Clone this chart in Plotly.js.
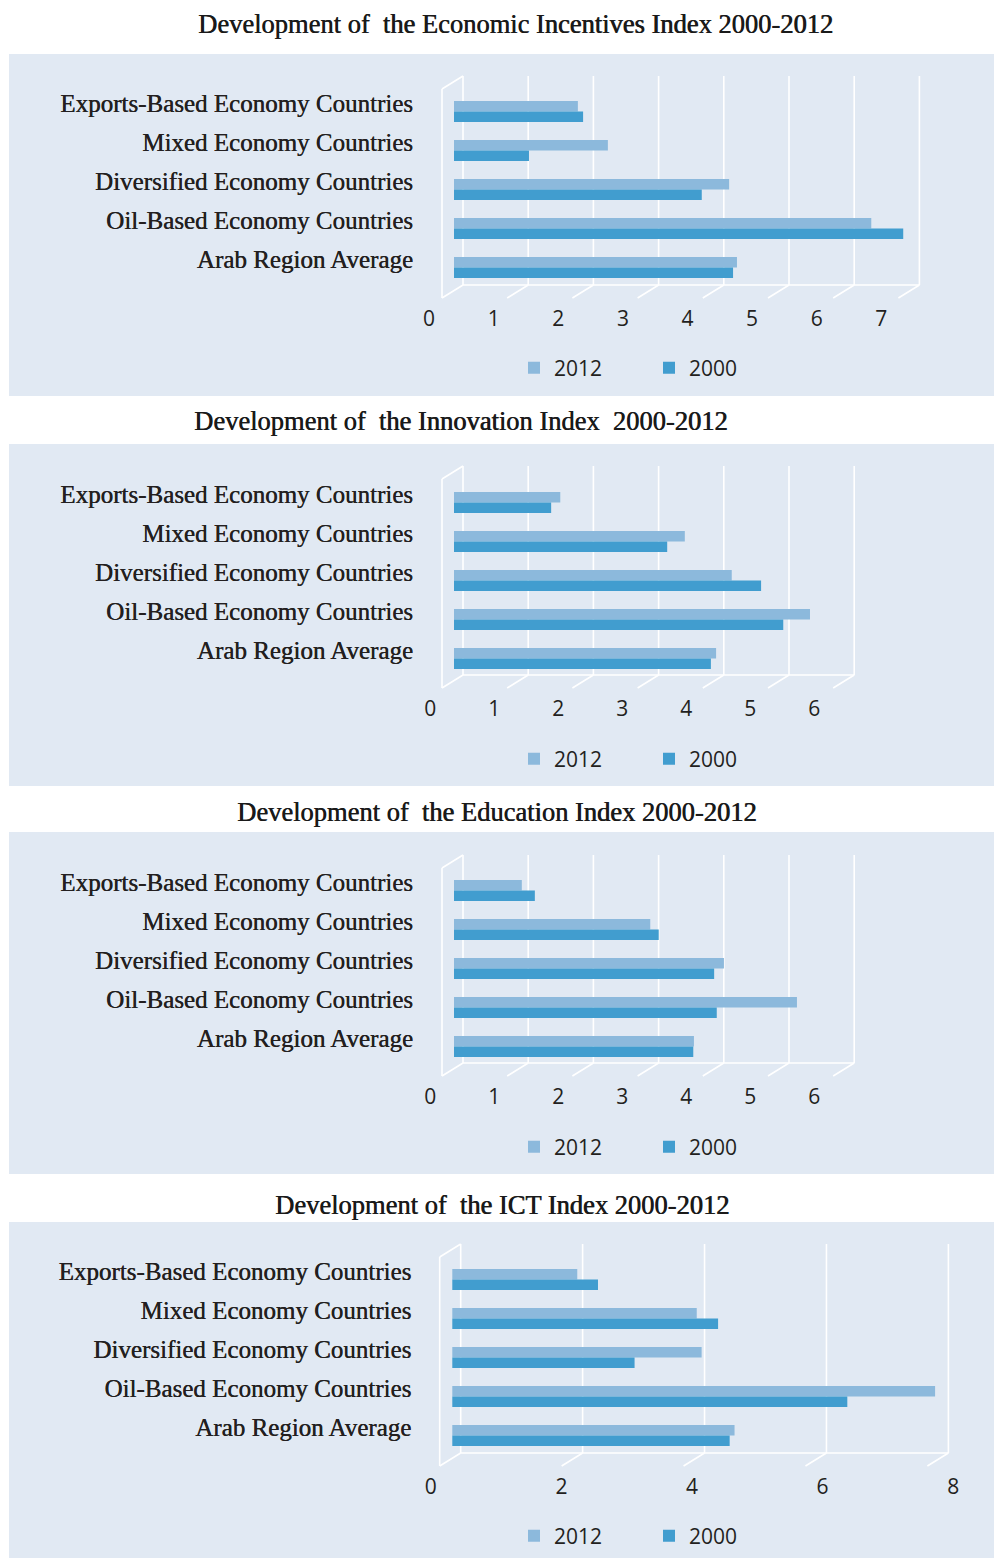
<!DOCTYPE html>
<html><head><meta charset="utf-8">
<script src="https://cdn.plot.ly/plotly-3.0.1.min.js"></script>
<style>html,body{margin:0;padding:0;background:#fff}#chart{width:994px;height:1558px}</style>
</head><body><div id="chart"></div>
<script>
// ---- data ----
const categories = ['Exports-Based Economy Countries', 'Mixed Economy Countries', 'Diversified Economy Countries', 'Oil-Based Economy Countries', 'Arab Region Average'];
const seriesNames = ['2012', '2000'];
const titles = ['Development of  the Economic Incentives Index 2000-2012', 'Development of  the Innovation Index  2000-2012', 'Development of  the Education Index 2000-2012', 'Development of  the ICT Index 2000-2012'];
const incentives2012 = [1.90, 2.36, 4.22, 6.40, 4.34];
const incentives2000 = [1.98, 1.15, 3.80, 6.89, 4.28];
const innovation2012 = [1.63, 3.54, 4.26, 5.46, 4.02];
const innovation2000 = [1.49, 3.27, 4.71, 5.05, 3.94];
const education2012 = [1.04, 3.01, 4.14, 5.26, 3.68];
const education2000 = [1.24, 3.14, 3.99, 4.03, 3.67];
const ict2012 = [2.05, 4.01, 4.09, 7.92, 4.63];
const ict2000 = [2.39, 4.36, 2.99, 6.48, 4.55];
const ticksIncentives = [0, 1, 2, 3, 4, 5, 6, 7];
const ticksInnovation = [0, 1, 2, 3, 4, 5, 6];
const ticksEducation = [0, 1, 2, 3, 4, 5, 6];
const ticksICT = [0, 2, 4, 6, 8];

// ---- layout geometry (pixels) ----
const W = 994, H = 1558;
const COLORS = ['#8cb9dc', '#419dcf'];
const BG = '#e1e9f3';
const panels = [
  {title: titles[0], s: [incentives2012, incentives2000], ticks: ticksIncentives, tx: 515, ty: 24, bgTop: 54, bgBot: 396, wallTop: 76, floorY: 285, cat0: 111.5, x0: 454, unit: 65.2, la: 429.1, lb: 64.6, legY: 368, wallOff: 9},
  {title: titles[1], s: [innovation2012, innovation2000], ticks: ticksInnovation, tx: 461, ty: 421, bgTop: 444, bgBot: 786, wallTop: 466, floorY: 675, cat0: 502.5, x0: 454, unit: 65.2, la: 430.3, lb: 64.0, legY: 759, wallOff: 9},
  {title: titles[2], s: [education2012, education2000], ticks: ticksEducation, tx: 497, ty: 812, bgTop: 832, bgBot: 1174, wallTop: 855, floorY: 1063, cat0: 890.5, x0: 454, unit: 65.2, la: 430.3, lb: 64.0, legY: 1147, wallOff: 9},
  {title: titles[3], s: [ict2012, ict2000], ticks: ticksICT, tx: 502, ty: 1205, bgTop: 1222, bgBot: 1558, wallTop: 1244, floorY: 1453, cat0: 1279.5, x0: 452.3, unit: 60.96, la: 430.8, lb: 65.3, legY: 1536, wallOff: 8.4}
];
const CAT_STEP = 39, DX = 21, DY = 13;
const LBL_L = 400, LBL_R = 990;
const px = x => x / W, py = y => 1 - y / H;

const traces = [];
const layout = {
  width: W, height: H,
  margin: {l: 0, r: 0, t: 0, b: 0},
  paper_bgcolor: '#ffffff', plot_bgcolor: 'rgba(0,0,0,0)',
  barmode: 'group', bargap: 0.46, bargroupgap: 0,
  showlegend: true,
  shapes: [], annotations: [],
  font: {family: 'Open Sans, sans-serif', color: '#231f20'}
};

panels.forEach((p, i) => {
  const k = i + 1;
  const xs = k === 1 ? '' : String(k);
  const xid = 'x' + xs, yid = 'y' + xs;
  const lblId = 'x' + (k + 4);
  const legId = 'legend' + xs;
  const L = p.x0 - 12, R = 950;
  const xr = [(L - p.x0) / p.unit, (R - p.x0) / p.unit];

  p.s.forEach((vals, j) => {
    traces.push({
      type: 'bar', orientation: 'h', name: seriesNames[j],
      x: vals, y: categories,
      xaxis: xid, yaxis: yid, legend: legId,
      marker: {color: COLORS[j], line: {width: 0}},
      hoverinfo: 'x+y+name'
    });
  });
  // empty carrier so the tick-label axis (perspective front edge) is drawn
  traces.push({type: 'scatter', mode: 'markers', x: [null], y: [null], xaxis: lblId, yaxis: yid,
    showlegend: false, hoverinfo: 'skip'});

  layout['xaxis' + xs] = {
    domain: [px(L), px(R)], range: xr, anchor: yid,
    showgrid: false, zeroline: false, showline: false, showticklabels: false, ticks: '', fixedrange: true
  };
  layout['xaxis' + (k + 4)] = {
    domain: [px(LBL_L), px(LBL_R)], anchor: yid, side: 'bottom',
    range: [(LBL_L - p.la) / p.lb, (LBL_R - p.la) / p.lb],
    tickvals: p.ticks, ticktext: p.ticks.map(String),
    showgrid: false, zeroline: false, showline: false, ticks: '',
    ticklabelstandoff: 19,
    tickfont: {family: 'Open Sans, sans-serif', size: 21, color: '#231f20'}
  };
  layout['yaxis' + xs] = {
    domain: [py(p.floorY), py(p.wallTop)], anchor: xid,
    type: 'category', categoryorder: 'array', categoryarray: categories,
    range: [(p.floorY - p.cat0) / CAT_STEP, (p.wallTop - p.cat0) / CAT_STEP],
    showgrid: false, zeroline: false, showline: false, ticks: '',
    ticklabelstandoff: 28, ticklabelshift: 8,
    tickfont: {family: 'Liberation Serif, serif', size: 25, color: '#231f20', shadow: '0.35px 0 0 #231f20'}
  };
  layout[legId] = {
    orientation: 'h', x: px(514), y: py(p.legY), xanchor: 'left', yanchor: 'middle',
    bgcolor: 'rgba(0,0,0,0)', entrywidth: 90, font: {family: 'Open Sans, sans-serif', size: 21, color: '#231f20'}
  };

  // panel background
  layout.shapes.push({type: 'rect', xref: 'paper', yref: 'paper', layer: 'below',
    x0: px(9), x1: px(W), y0: py(p.bgBot), y1: py(p.bgTop), fillcolor: BG, line: {width: 0}});
  // perspective grid
  const line = {color: '#ffffff', width: 1.6};
  const wx = v => p.x0 + p.unit * v + p.wallOff;
  const tmax = p.ticks[p.ticks.length - 1];
  p.ticks.forEach(v => {
    layout.shapes.push({type: 'line', xref: 'paper', yref: 'paper', layer: 'below',
      x0: px(wx(v)), x1: px(wx(v)), y0: py(p.floorY), y1: py(p.wallTop), line});
    layout.shapes.push({type: 'line', xref: 'paper', yref: 'paper', layer: 'below',
      x0: px(wx(v)), x1: px(wx(v) - DX), y0: py(p.floorY), y1: py(p.floorY + DY), line});
  });
  layout.shapes.push({type: 'line', xref: 'paper', yref: 'paper', layer: 'below',
    x0: px(wx(0)), x1: px(wx(tmax)), y0: py(p.floorY), y1: py(p.floorY), line});
  layout.shapes.push({type: 'line', xref: 'paper', yref: 'paper', layer: 'below',
    x0: px(wx(0) - DX), x1: px(wx(0) - DX), y0: py(p.floorY + DY), y1: py(p.wallTop + DY), line});
  layout.shapes.push({type: 'line', xref: 'paper', yref: 'paper', layer: 'below',
    x0: px(wx(0) - DX), x1: px(wx(0)), y0: py(p.wallTop + DY), y1: py(p.wallTop), line});

  layout.annotations.push({text: p.title, xref: 'paper', yref: 'paper', x: px(p.tx), y: py(p.ty),
    xanchor: 'center', yanchor: 'middle', showarrow: false,
    font: {family: 'Liberation Serif, serif', size: 26.5, color: '#1a1a1a', shadow: '0.6px 0 0 #1a1a1a'}});
});

Plotly.newPlot('chart', traces, layout, {displayModeBar: false, staticPlot: true});
</script>
</body></html>
